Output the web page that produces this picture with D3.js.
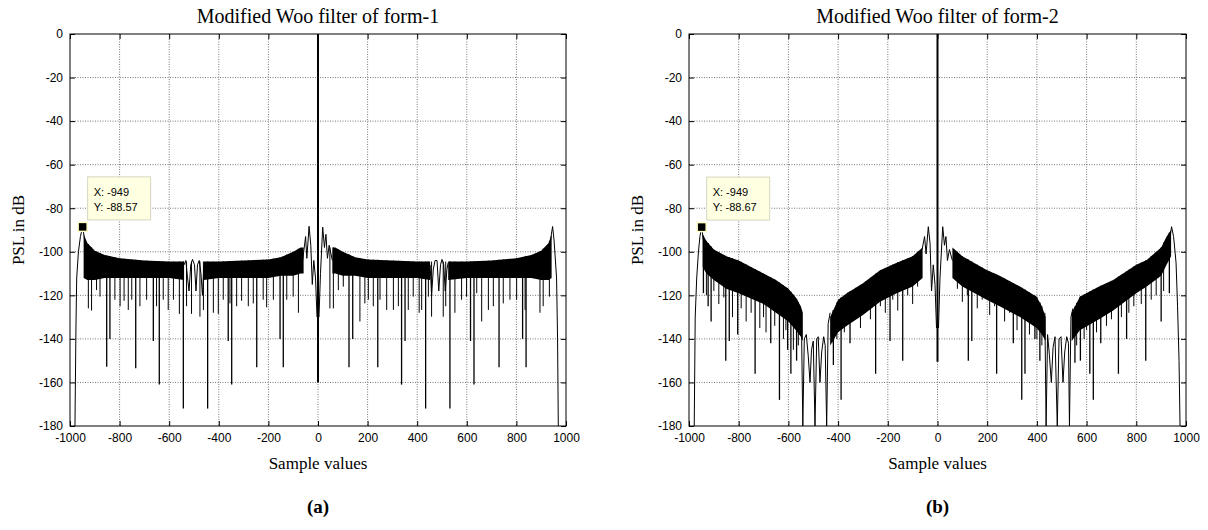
<!DOCTYPE html>
<html>
<head>
<meta charset="utf-8">
<script src="https://cdn.jsdelivr.net/npm/d3@7"></script>
<style>
  body { margin: 0; background: #fff; }
</style>
</head>
<body>
<div class="canvas"></div>
<script>
// Axis ticks
const xTicks = [-1000, -800, -600, -400, -200, 0, 200, 400, 600, 800, 1000];
const yTicks = [0, -20, -40, -60, -80, -100, -120, -140, -160, -180];

// ---------- Panel (a): form-1 ----------
// dense sidelobe band (upper / lower edge of the solid black part), null = break
const bandXA   = [-945, -930, -900, -860, -800, -700, -600, -540, null, -460, -400, -300, -200, -150, -100, -70, -58, null, 58, 70, 100, 150, 200, 300, 400, 452, null, 525, 600, 700, 800, 860, 900, 930, 942];
const bandTopA = [-92, -96, -99.5, -101.5, -103, -104, -104.5, -104.5, null, -104.5, -104.5, -104, -103.5, -102.5, -100, -98, -98, null, -98, -98, -100, -102.5, -103.5, -104, -104.5, -104.5, null, -104.5, -104.5, -104, -103, -101.5, -99.5, -96, -92];
const bandLowA = [-112, -113, -113, -112, -112, -112, -112, -113, null, -113, -112, -112, -112, -111, -111, -110, -110, null, -110, -110, -111, -111, -112, -112, -112, -113, null, -113, -112, -112, -112, -112, -113, -113, -112];
// smooth lobes at the edges, round the main lobe and in the notch gaps
const curvesA = [
  [[-980, -180], [-976, -135], [-973, -112], [-966, -100], [-958, -93], [-949, -88.57], [-943, -93], [-938, -97]],
  [[-62, -104], [-50, -93], [-45, -103], [-36, -88.3], [-29, -97], [-23, -115], [-17, -104], [-10, -112], [-4, -130]],
  [[4, -130], [10, -110], [19, -88.7], [26, -98], [32, -92], [38, -103], [45, -97], [58, -104]],
  [[936, -96], [941, -92], [946, -88.4], [952, -95], [962, -112], [966, -140], [969, -180]],
  [[-540, -106], [-533, -104], [-526, -112], [-520, -118], [-513, -106], [-506, -103.5], [-498, -106], [-492, -118], [-486, -106], [-479, -104], [-472, -110], [-466, -120], [-460, -106]],
  [[452, -106], [458, -120], [465, -108], [472, -104], [480, -104], [487, -118], [494, -106], [500, -103.5], [507, -106], [513, -118], [520, -108], [525, -105]]
];
const mainDepthA = -160;
const deepA = [[-852, -152.8], [-839, -140], [-735, -153.5], [-664, -141], [-640, -161], [-543, -172], [-445, -172], [-362, -141], [-348, -161], [-247, -153], [-153, -140], [-140, -153],
               [125, -153], [140, -140], [241, -153], [337, -161], [351, -141], [434, -172], [532, -172], [615, -141], [629, -161], [730, -153], [825, -140], [839, -153]];
const medA = [[-926, -126], [-913, -127], [-893, -117.6], [-879, -120.6], [-819, -122], [-798, -125], [-782, -122.5], [-765, -126.7], [-751, -122], [-718, -125], [-691, -122], [-651, -125], [-624, -122], [-604, -126.7], [-583, -122], [-559, -128.5], [-530, -125], [-510, -128.5], [-476, -129.8], [-462, -126.7], [-422, -128], [-402, -128.5], [-382, -122], [-355, -123.7], [-328, -125], [-308, -122.5], [-281, -125], [-261, -123.7], [-221, -122], [-207, -125.5], [-180, -122], [-126, -122], [-100, -120.6], [-79, -128],
              [48, -126], [62, -126], [82, -117.6], [102, -116], [169, -132], [189, -123.7], [203, -122], [223, -125], [250, -122], [277, -126.7], [304, -126.7], [324, -125], [364, -126.7], [384, -120.6], [408, -128], [418, -126.7], [445, -120.6], [458, -129.8], [505, -129.8], [515, -125], [552, -128], [579, -122], [599, -120.6], [640, -119], [660, -132], [687, -126.7], [707, -125], [747, -123.7], [774, -122], [801, -122], [835, -126.7], [895, -128], [908, -125], [933, -120.6]];
const tipA = [-949, -88.57];

// ---------- Panel (b): form-2 ----------
const bandXB   = [-945, -930, -900, -850, -800, -700, -650, -600, -570, -550, -542, null, -432, -400, -365, -300, -231, -164, -100, -60, null, 60, 100, 198, 250, 332, 399, 420, 435, null, 540, 573, 650, 707, 800, 842, 900, 922, 940];
const bandTopB = [-92, -95, -99, -102, -104, -110, -113, -117, -121, -125, -128, null, -130, -122, -119, -114.5, -108.5, -105, -102, -98, null, -98, -102, -108.4, -111, -116, -120.6, -125, -130, null, -128, -120.6, -116, -113, -106, -103.8, -98, -93, -90];
const bandLowB = [-107, -110, -113, -117, -119, -124, -128, -132, -136, -139, -141, null, -143, -137, -134, -129, -123, -119, -116, -112, null, -112, -116, -122, -125, -130, -135, -138, -141, null, -141, -136, -131, -127, -119, -116, -111, -106, -102];
const curvesB = [
  [[-979, -180], [-975, -130], [-969, -112], [-962, -100], [-956, -93], [-949, -88.67], [-943, -94], [-938, -97]],
  [[-62, -99], [-52, -93], [-46, -101], [-37, -88.5], [-30, -96], [-24, -118], [-17, -106], [-10, -115], [-4, -135]],
  [[4, -135], [10, -112], [21, -88.5], [28, -97], [34, -93], [40, -104], [48, -99], [60, -104]],
  [[936, -93], [942, -88.5], [950, -93], [960, -105], [966, -125], [972, -150], [976, -180]],
  [[-548, -128], [-542, -180], [-536, -140], [-528, -138], [-520, -148], [-513, -160], [-507, -145], [-500, -141], [-493, -180], [-486, -140], [-480, -139], [-473, -160], [-466, -146], [-458, -139], [-452, -143], [-446, -180], [-440, -133], [-432, -128]],
  [[432, -128], [437, -180], [443, -138], [450, -147], [458, -160], [465, -144], [473, -139], [482, -180], [489, -140], [497, -139], [505, -160], [512, -146], [520, -139], [527, -142], [531, -180], [537, -130], [545, -126]]
];
const mainDepthB = -150.5;
const deepB = [[-942, -119], [-923, -125], [-911, -132], [-852, -150], [-838, -141], [-804, -138], [-734, -156], [-671, -142], [-636, -168], [-603, -145], [-590, -156], [-567, -150], [-419, -152], [-388, -168], [-352, -142], [-249, -156], [-191, -141], [-140, -150],
               [124, -150], [138, -141], [238, -156], [305, -142], [339, -168], [352, -156], [392, -140], [412, -150], [553, -151], [575, -150], [613, -156], [627, -168], [657, -142], [728, -156], [761, -140], [838, -150], [900, -132], [933, -119]];
const medB = [[-930, -120], [-900, -118], [-880, -124], [-860, -121], [-825, -130], [-790, -126], [-770, -132], [-750, -128], [-715, -135], [-700, -130], [-690, -137], [-655, -134], [-620, -140], [-610, -136], [-580, -145], [-560, -143], [-420, -142], [-405, -140], [-375, -137], [-360, -132], [-330, -130], [-310, -135], [-290, -128], [-270, -131], [-230, -125], [-210, -128], [-180, -122], [-160, -127], [-120, -120], [-100, -124], [-80, -116],
              [80, -117], [100, -123], [120, -120], [160, -126], [180, -122], [210, -129], [230, -125], [270, -132], [290, -128], [320, -136], [370, -138], [400, -140], [420, -143], [560, -143], [590, -140], [600, -136], [640, -137], [680, -134], [700, -131], [740, -130], [770, -128], [790, -125], [820, -124], [860, -122], [880, -120], [910, -118]];
const tipB = [-949, -88.67];

const titles = ["Modified Woo filter of form-1", "Modified Woo filter of form-2"];
const panelTags = ["(a)", "(b)"];

// ---------- layout ----------
const width = 1208, height = 530;
const plotTop = 34, plotBottom = 426;
const panels = [
  { left: 70, right: 566, bandX: bandXA, bandTop: bandTopA, bandLow: bandLowA, curves: curvesA, mainDepth: mainDepthA, deep: deepA, med: medA, tip: tipA },
  { left: 689, right: 1186, bandX: bandXB, bandTop: bandTopB, bandLow: bandLowB, curves: curvesB, mainDepth: mainDepthB, deep: deepB, med: medB, tip: tipB }
];

const svg = d3.select(".canvas")
  .append("svg")
    .attr("width", width)
    .attr("height", height)
    .style("display", "block");

const serif = "'Liberation Serif', 'Times New Roman', serif";
const sans = "'Liberation Sans', Arial, sans-serif";
const plain = d => String(d);   // hyphen minus, like the reference

panels.forEach((p, k) => {
  const x = d3.scaleLinear().domain([-1000, 1000]).range([p.left, p.right]);
  const y = d3.scaleLinear().domain([-180, 0]).range([plotBottom, plotTop]);
  const cx = (p.left + p.right) / 2;

  const g = svg.append("g");

  // clip
  const clipId = "clip" + k;
  svg.append("clipPath").attr("id", clipId)
    .append("rect")
      .attr("x", p.left).attr("y", plotTop)
      .attr("width", p.right - p.left).attr("height", plotBottom - plotTop);

  // grid
  g.selectAll(".xgrid")
    .data(xTicks.slice(1, -1))
    .join("line")
      .attr("x1", d => x(d)).attr("x2", d => x(d))
      .attr("y1", plotTop).attr("y2", plotBottom)
      .attr("stroke", "#555").attr("stroke-width", 0.8)
      .attr("stroke-dasharray", "1,1.5");
  g.selectAll(".ygrid")
    .data(yTicks.slice(1, -1))
    .join("line")
      .attr("x1", p.left).attr("x2", p.right)
      .attr("y1", d => y(d)).attr("y2", d => y(d))
      .attr("stroke", "#555").attr("stroke-width", 0.8)
      .attr("stroke-dasharray", "1,1.5");

  const plot = g.append("g").attr("clip-path", `url(#${clipId})`);

  // dense band
  const rows = p.bandX.map((v, i) => ({ x: v, t: p.bandTop[i], l: p.bandLow[i] }));
  const band = d3.area()
    .defined(d => d.t != null)
    .x(d => x(d.x))
    .y0(d => y(d.l))
    .y1(d => y(d.t));
  plot.append("path")
    .datum(rows)
    .attr("fill", "#000")
    .attr("d", band);

  // top edge used as the start of each notch line
  const def = rows.filter(d => d.t != null);
  const topAt = d3.scaleLinear().domain(def.map(d => d.x)).range(def.map(d => d.t)).clamp(true);

  plot.selectAll(".med")
    .data(p.med)
    .join("line")
      .attr("x1", d => x(d[0])).attr("x2", d => x(d[0]))
      .attr("y1", d => y(topAt(d[0]))).attr("y2", d => y(d[1]))
      .attr("stroke", "#000").attr("stroke-width", 1);

  plot.selectAll(".deep")
    .data(p.deep)
    .join("line")
      .attr("x1", d => x(d[0])).attr("x2", d => x(d[0]))
      .attr("y1", d => y(topAt(d[0]))).attr("y2", d => y(d[1]))
      .attr("stroke", "#000").attr("stroke-width", 1.3);

  const line = d3.line().x(d => x(d[0])).y(d => y(d[1]));
  plot.selectAll(".curve")
    .data(p.curves)
    .join("path")
      .attr("fill", "none")
      .attr("stroke", "#000")
      .attr("stroke-width", 1)
      .attr("d", line);

  // main lobe
  plot.append("line")
    .attr("x1", x(0)).attr("x2", x(0))
    .attr("y1", y(p.mainDepth)).attr("y2", y(0))
    .attr("stroke", "#000").attr("stroke-width", 2);

  // axes (ticks inside, MATLAB style)
  const styleAxis = sel => {
    sel.select(".domain").remove();
    sel.selectAll(".tick line").attr("stroke", "#000");
    sel.selectAll(".tick text").style("font-family", sans).style("font-size", "12px").attr("fill", "#000");
  };
  g.append("g").attr("transform", `translate(0,${plotBottom})`)
    .call(d3.axisBottom(x).tickValues(xTicks).tickSize(-5).tickPadding(7).tickFormat(plain))
    .call(styleAxis);
  g.append("g").attr("transform", `translate(0,${plotTop})`)
    .call(d3.axisTop(x).tickValues(xTicks).tickSize(-5).tickFormat(""))
    .call(styleAxis);
  g.append("g").attr("transform", `translate(${p.left},0)`)
    .call(d3.axisLeft(y).tickValues(yTicks).tickSize(-5).tickPadding(7).tickFormat(plain))
    .call(styleAxis);
  g.append("g").attr("transform", `translate(${p.right},0)`)
    .call(d3.axisRight(y).tickValues(yTicks).tickSize(-5).tickFormat(""))
    .call(styleAxis);

  g.append("rect")
    .attr("x", p.left).attr("y", plotTop)
    .attr("width", p.right - p.left).attr("height", plotBottom - plotTop)
    .attr("fill", "none").attr("stroke", "#000").attr("stroke-width", 1);

  // data tip
  const mx = x(p.tip[0]), my = y(p.tip[1]);
  g.append("rect")
    .attr("x", mx - 4.5).attr("y", my - 4.5)
    .attr("width", 9).attr("height", 9)
    .attr("fill", "#000").attr("stroke", "#ffffc8").attr("stroke-width", 1.5);
  const bx = mx + 5, by = my - 50;
  g.append("rect")
    .attr("x", bx).attr("y", by)
    .attr("width", 63).attr("height", 43)
    .attr("fill", "#ffffe1").attr("stroke", "#d6d6c0").attr("stroke-width", 1);
  g.append("text")
    .attr("x", bx + 6).attr("y", by + 19)
    .style("font-family", sans).style("font-size", "11px")
    .text(`X: ${p.tip[0]}`);
  g.append("text")
    .attr("x", bx + 6).attr("y", by + 34)
    .style("font-family", sans).style("font-size", "11px")
    .text(`Y: ${p.tip[1]}`);

  // labels
  g.append("text")
    .attr("x", cx).attr("y", 23)
    .attr("text-anchor", "middle")
    .style("font-family", serif).style("font-size", "20px")
    .text(titles[k]);
  g.append("text")
    .attr("x", cx).attr("y", 469)
    .attr("text-anchor", "middle")
    .style("font-family", serif).style("font-size", "17px")
    .text("Sample values");
  g.append("text")
    .attr("transform", `translate(${p.left - 46},${(plotTop + plotBottom) / 2}) rotate(-90)`)
    .attr("text-anchor", "middle")
    .style("font-family", serif).style("font-size", "17px")
    .text("PSL in dB");
  g.append("text")
    .attr("x", cx).attr("y", 513)
    .attr("text-anchor", "middle")
    .style("font-family", serif).style("font-size", "19px").style("font-weight", "bold")
    .text(panelTags[k]);
});
</script>
</body>
</html>
